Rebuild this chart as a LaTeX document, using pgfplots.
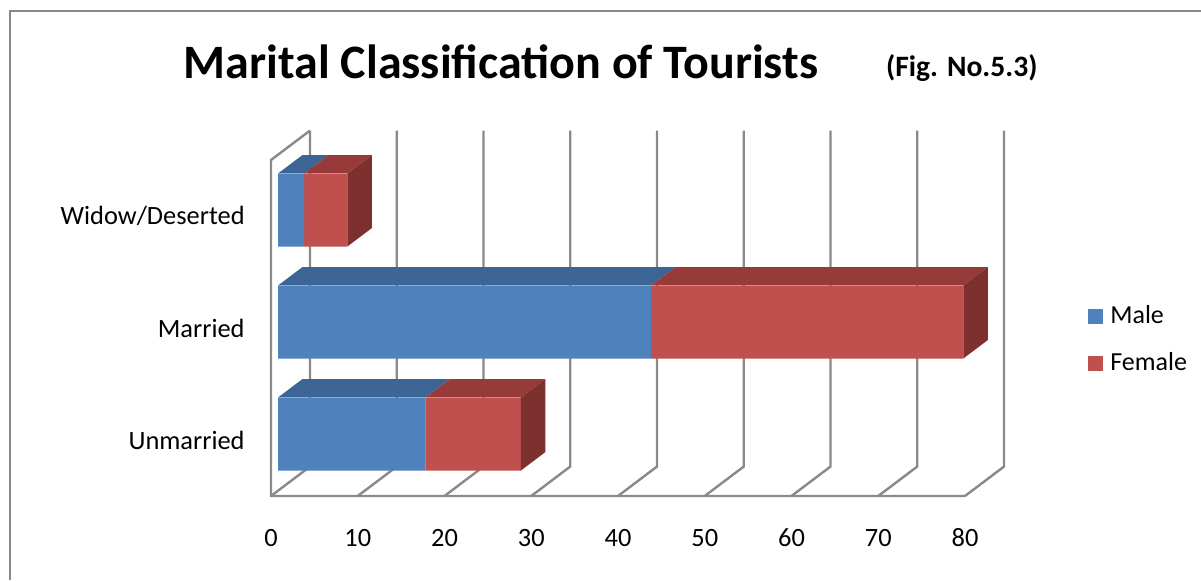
\documentclass[border=0pt]{standalone}
\usepackage{fontspec}
\setmainfont{Carlito}
\usepackage{pgfplots}
\pgfplotsset{compat=1.18}
\definecolor{mblue}{RGB}{79,129,189}
\definecolor{mbluetop}{RGB}{60,101,150}
\definecolor{mred}{RGB}{192,80,77}
\definecolor{mredtop}{RGB}{150,59,57}
\definecolor{mredside}{RGB}{125,48,46}
\definecolor{gridc}{RGB}{137,137,137}
\pgfplotsset{gl/.style={draw=gridc, line width=1.2pt, mark=none, forget plot},
  face/.style={fill=#1, draw=none, mark=none, forget plot}}
\begin{document}
\begin{tikzpicture}
\useasboundingbox (0,0) rectangle (600.5pt,290pt);
\fill[white] (0,0) rectangle (600.5pt,290pt);
% outer frame
\draw[gridc, line width=1pt] (5pt,0pt) -- (5pt,284.25pt) -- (600.5pt,284.25pt);
% title
\node[anchor=base, font=\fontsize{24}{28}\selectfont\bfseries] at (250.5pt,251pt) {Marital Classification of Tourists};
\node[anchor=base west, font=\fontsize{14.8}{18}\selectfont\bfseries] at (439.5pt,251.5pt) {(Fig. No.5.3)};
% frame axis
\begin{axis}[
  at={(135.5pt,42pt)}, anchor=south west,
  x=4.3375pt, y=56pt,
  xmin=0, xmax=85, ymin=-0.5, ymax=2.8,
  enlargelimits=false, clip=false,
  axis x line*=bottom, axis y line*=left,
  axis line style={draw=none},
  major tick length=0pt,
  xtick={0,10,...,80},
  ytick={0,1,2},
  yticklabels={Unmarried,Married,Widow/Deserted},
  /pgf/number format/assume math mode=true,
  ticklabel style={font=\fontsize{13.2}{15.8}\selectfont},
  xticklabel style={anchor=center, yshift=-21pt},
  yticklabel style={anchor=east, inner sep=0pt, xshift=-13pt},
]
\addplot[gl] coordinates {(4.5,2.763) (0,2.5) (0,-0.5) (80,-0.5)};
\addplot[gl] coordinates {(0,-0.5) (4.5,-0.237) (4.5,2.763)};
\addplot[gl] coordinates {(10,-0.5) (14.5,-0.237) (14.5,2.763)};
\addplot[gl] coordinates {(20,-0.5) (24.5,-0.237) (24.5,2.763)};
\addplot[gl] coordinates {(30,-0.5) (34.5,-0.237) (34.5,2.763)};
\addplot[gl] coordinates {(40,-0.5) (44.5,-0.237) (44.5,2.763)};
\addplot[gl] coordinates {(50,-0.5) (54.5,-0.237) (54.5,2.763)};
\addplot[gl] coordinates {(60,-0.5) (64.5,-0.237) (64.5,2.763)};
\addplot[gl] coordinates {(70,-0.5) (74.5,-0.237) (74.5,2.763)};
\addplot[gl] coordinates {(80,-0.5) (84.5,-0.237) (84.5,2.763)};
\end{axis}
% bars axis (front faces)
\begin{axis}[
  at={(139pt,45pt)}, anchor=south west,
  x=4.3375pt, y=56pt,
  xmin=0, xmax=85, ymin=-0.5, ymax=2.8,
  enlargelimits=false, clip=false,
  hide axis,
  xbar stacked, bar width=36.5pt,
  legend style={at={(1.0903,0.4058)}, anchor=west, draw=none, fill=none,
    font=\fontsize{13}{15.6}\selectfont, row sep=12.5pt,
    nodes={inner sep=0pt, text height=9pt, text depth=2pt},
    /tikz/every odd column/.append style={column sep=3.5pt}},
  legend cell align=left,
  legend image code/.code={\fill[#1] (0pt,-3.75pt) rectangle (7.5pt,3.75pt);},
]
\addplot[fill=mblue, draw=none] coordinates {(17,0) (43,1) (3,2)};
\addplot[fill=mred, draw=none] coordinates {(11,0) (36,1) (5,2)};
\legend{Male, Female}
\end{axis}
% 3D faces
\begin{axis}[
  at={(139pt,45pt)}, anchor=south west,
  x=4.3375pt, y=56pt,
  xmin=0, xmax=85, ymin=-0.5, ymax=2.8,
  enlargelimits=false, clip=false,
  hide axis,
]
% Widow/Deserted
\addplot[face=mbluetop] coordinates {(0,2.326) (3,2.326) (5.824,2.491) (2.824,2.491)} -- cycle;
\addplot[face=mredtop] coordinates {(3,2.326) (8,2.326) (10.824,2.491) (5.824,2.491)} -- cycle;
\addplot[face=mredside] coordinates {(8,1.674) (8,2.326) (10.824,2.491) (10.824,1.839)} -- cycle;
% Married
\addplot[face=mbluetop] coordinates {(0,1.326) (43,1.326) (45.824,1.491) (2.824,1.491)} -- cycle;
\addplot[face=mredtop] coordinates {(43,1.326) (79,1.326) (81.824,1.491) (45.824,1.491)} -- cycle;
\addplot[face=mredside] coordinates {(79,0.674) (79,1.326) (81.824,1.491) (81.824,0.839)} -- cycle;
% Unmarried
\addplot[face=mbluetop] coordinates {(0,0.326) (17,0.326) (19.824,0.491) (2.824,0.491)} -- cycle;
\addplot[face=mredtop] coordinates {(17,0.326) (28,0.326) (30.824,0.491) (19.824,0.491)} -- cycle;
\addplot[face=mredside] coordinates {(28,-0.326) (28,0.326) (30.824,0.491) (30.824,-0.161)} -- cycle;
\end{axis}
\end{tikzpicture}
\end{document}
